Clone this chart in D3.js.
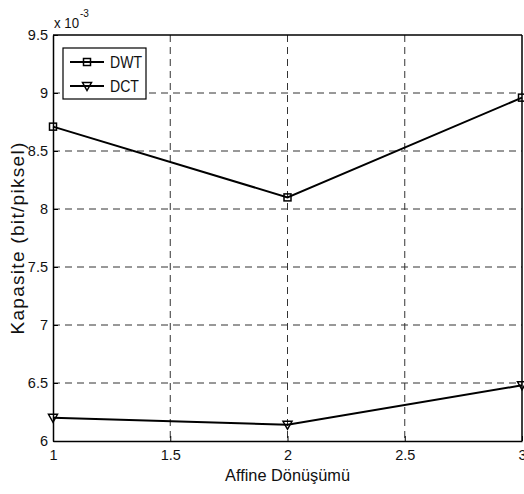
<!DOCTYPE html>
<html>
<head>
<meta charset="utf-8">
<script src="https://cdn.jsdelivr.net/npm/d3@7"></script>
<style>
  html, body { margin: 0; padding: 0; background: #fff; }
  svg { display: block; font-family: "Liberation Sans", Arial, sans-serif; }
</style>
</head>
<body>
<svg id="chart" width="524" height="494"></svg>
<script>
// Capacity per transform index, in units of 1e-3 bit/pixel
const xValues = [1, 2, 3];
const dwtValues = [8.71, 8.10, 8.96];
const dctValues = [6.20, 6.14, 6.48];
const seriesNames = ["DWT", "DCT"];
const xTicks = [1, 1.5, 2, 2.5, 3];
const yTicks = [6, 6.5, 7, 7.5, 8, 8.5, 9, 9.5];

const svg = d3.select("#chart");
const plotLeft = 53, plotRight = 522, plotTop = 35, plotBottom = 441;

const x = d3.scaleLinear().domain([1, 3]).range([plotLeft, plotRight]);
const y = d3.scaleLinear().domain([6, 9.5]).range([plotBottom, plotTop]);

// Dashed grid
const grid = svg.append("g").attr("stroke", "#333").attr("stroke-width", 1)
  .attr("stroke-dasharray", "7,5");
grid.selectAll(".gx").data(xTicks.slice(1, -1)).join("line")
  .attr("x1", d => x(d)).attr("x2", d => x(d))
  .attr("y1", plotTop).attr("y2", plotBottom);
grid.selectAll(".gy").data(yTicks.slice(1, -1)).join("line")
  .attr("x1", plotLeft).attr("x2", plotRight)
  .attr("y1", d => y(d)).attr("y2", d => y(d));

// Axes with inward ticks
const fmt = d => String(d);
const xAxis = svg.append("g").attr("transform", `translate(0,${plotBottom})`)
  .call(d3.axisBottom(x).tickValues(xTicks).tickFormat(fmt).tickSizeInner(-5).tickSizeOuter(0).tickPadding(9));
const yAxis = svg.append("g").attr("transform", `translate(${plotLeft},0)`)
  .call(d3.axisLeft(y).tickValues(yTicks).tickFormat(fmt).tickSizeInner(-5).tickSizeOuter(0).tickPadding(5));
[xAxis, yAxis].forEach(a => {
  a.selectAll("text").attr("font-size", 14.5).attr("fill", "#111")
    .attr("font-family", "Liberation Sans, Arial, sans-serif");
  a.selectAll("line").attr("stroke", "#000").attr("stroke-width", 1);
  a.select(".domain").attr("stroke", "#000").attr("stroke-width", 1.5);
});
// Top and right frame lines
svg.append("line").attr("x1", plotLeft).attr("x2", plotRight).attr("y1", plotTop).attr("y2", plotTop)
  .attr("stroke", "#000").attr("stroke-width", 1.5);
svg.append("line").attr("x1", plotRight).attr("x2", plotRight).attr("y1", plotTop).attr("y2", plotBottom)
  .attr("stroke", "#000").attr("stroke-width", 1.5);

// Exponent label
const expo = svg.append("text").attr("x", plotLeft + 1).attr("y", 28)
  .attr("font-size", 14).attr("fill", "#111");
expo.append("tspan").attr("textLength", 25).attr("lengthAdjust", "spacingAndGlyphs").text("x 10");
expo.append("tspan").attr("dy", -11).attr("dx", 1).attr("font-size", 10).text("-3");

// Axis titles
svg.append("text").attr("x", x(2)).attr("y", 481).attr("text-anchor", "middle")
  .attr("font-size", 17).attr("fill", "#111")
  .attr("textLength", 125).attr("lengthAdjust", "spacingAndGlyphs").text("Affine Dönüşümü");
svg.append("text").attr("transform", `translate(24,${(plotTop + plotBottom) / 2}) rotate(-90)`)
  .attr("text-anchor", "middle").attr("font-size", 19).attr("fill", "#111")
  .attr("letter-spacing", 1.3).text("Kapasite (bit/piksel)");

// Series
const line = d3.line().x((d, i) => x(xValues[i])).y(d => y(d));
const series = [
  { name: seriesNames[0], values: dwtValues, marker: "square" },
  { name: seriesNames[1], values: dctValues, marker: "tri" }
];
function drawMarker(g, type, cx, cy) {
  if (type === "square") {
    g.append("rect").attr("x", cx - 3.5).attr("y", cy - 3.5).attr("width", 7).attr("height", 7)
      .attr("fill", "none").attr("stroke", "#000").attr("stroke-width", 1.5);
  } else {
    g.append("path").attr("d", `M${cx - 4.5},${cy - 3.5}L${cx + 4.5},${cy - 3.5}L${cx},${cy + 4.5}Z`)
      .attr("fill", "none").attr("stroke", "#000").attr("stroke-width", 1.5);
  }
}
series.forEach(s => {
  svg.append("path").datum(s.values).attr("d", line)
    .attr("fill", "none").attr("stroke", "#000").attr("stroke-width", 2);
  const mg = svg.append("g");
  s.values.forEach((v, i) => drawMarker(mg, s.marker, x(xValues[i]), y(v)));
});

// Legend
const lg = svg.append("g");
lg.append("rect").attr("x", 63).attr("y", 48).attr("width", 83).attr("height", 51)
  .attr("fill", "#fff").attr("stroke", "#000").attr("stroke-width", 1.2);
const legendWidths = [32, 29];
series.forEach((s, i) => {
  const ly = 62 + i * 24;
  lg.append("line").attr("x1", 70).attr("x2", 104).attr("y1", ly).attr("y2", ly)
    .attr("stroke", "#000").attr("stroke-width", 2);
  drawMarker(lg, s.marker, 87, ly);
  lg.append("text").attr("x", 110).attr("y", ly + 6).attr("font-size", 17)
    .attr("textLength", legendWidths[i]).attr("lengthAdjust", "spacingAndGlyphs")
    .attr("fill", "#111").text(s.name);
});
</script>
</body>
</html>
